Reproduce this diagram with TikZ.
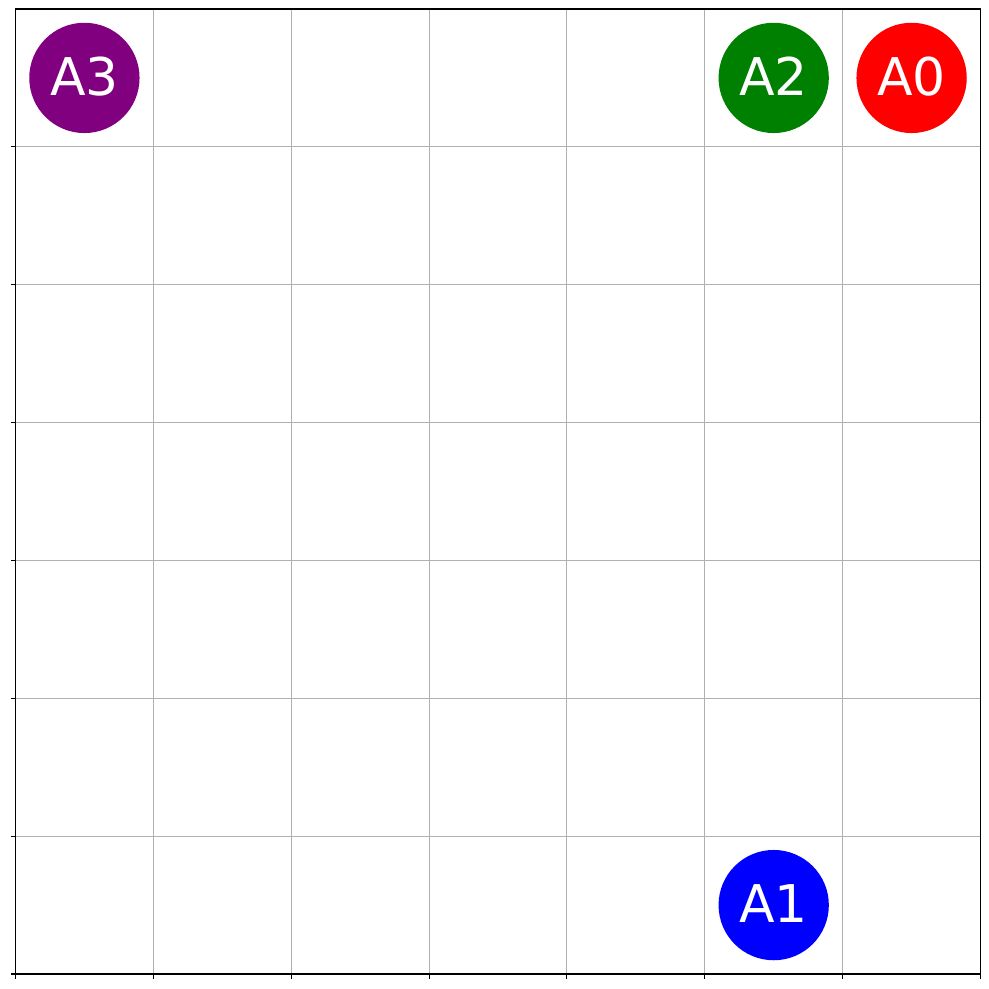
\documentclass[tikz,border=0pt]{standalone}
\usepackage{fontspec}
\setmainfont{DejaVu Sans}
\definecolor{gridgray}{RGB}{176,176,176}
\definecolor{agreen}{RGB}{0,128,0}
\definecolor{apurple}{RGB}{128,0,128}
\tikzset{
  agent/.style={circle, minimum size=110.3pt, inner sep=0pt, text=white,
    font=\fontsize{52}{60}\selectfont},
  gridline/.style={gridgray, line width=1.1pt},
  spine/.style={black, line width=1.1pt},
  tick/.style={black, line width=1.1pt}
}
\begin{document}
\begin{tikzpicture}[x=1pt,y=-1pt]
\useasboundingbox (0,0) rectangle (989,989);
\def\cs{137.857}
\foreach \i in {1,...,6} {
  \draw[gridline] ({15.5+\i*\cs},9) -- ({15.5+\i*\cs},974);
  \draw[gridline] (15.5,{9+\i*\cs}) -- (980.5,{9+\i*\cs});
}
\draw[spine] (15.5,9) rectangle (980.5,974);
\foreach \i in {0,...,7} {
  \draw[tick] ({15.5+\i*\cs},974) -- ({15.5+\i*\cs},978.9);
}
\foreach \i in {1,...,7} {
  \draw[tick] (15.5,{9+\i*\cs}) -- (10.6,{9+\i*\cs});
}
\node[agent, fill=red] (A0) at (911.6,77.9) {\raisebox{3pt}{A0}};
\node[agent, fill=agreen] (A2) at (773.7,77.9) {\raisebox{3pt}{A2}};
\node[agent, fill=blue] (A1) at (773.7,905.1) {\raisebox{3pt}{A1}};
\node[agent, fill=apurple] (A3) at (84.4,77.9) {\raisebox{3pt}{A3}};
\end{tikzpicture}
\end{document}
